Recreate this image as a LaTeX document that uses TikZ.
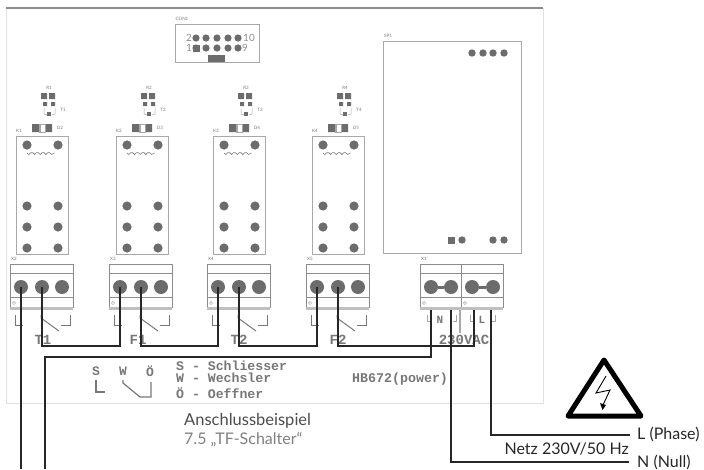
\documentclass[tikz,border=0pt]{standalone}
\usepackage{fontspec}
\setmainfont{Lato}
\setmonofont{Liberation Mono}
\usetikzlibrary{calc}
\definecolor{padgray}{HTML}{6C6C6C}
\definecolor{linegray}{HTML}{A8A8A8}
\definecolor{inkgray}{HTML}{777777}
\tikzset{
  pad/.style={circle,fill=padgray,inner sep=0pt,minimum size=#1},
  pad/.default=9pt,
  wire/.style={draw=black!85,line width=1.1pt},
  outline/.style={draw=linegray,line width=.8pt},
  symbolline/.style={draw=inkgray,line width=1pt},
  tiny/.style={text=inkgray,font=\fontsize{4.5}{5}\selectfont,inner sep=0pt},
  mono/.style={text=inkgray,font=\ttfamily\bfseries\fontsize{#1}{#1}\selectfont,inner sep=0pt},
  caption/.style={text=black!85,font=\fontsize{16}{18}\selectfont,inner sep=0pt}
}
\newcommand*{\RelayBlock}[5]{% #1 = relay, #2 = left edge, #3 = R, #4 = T, #5 = D
  \draw[outline] (#2,136) rectangle ++(52,118);
  \foreach \px in {11,42} {
    \foreach \py in {145,206,227,248} {
      \fill[padgray] ($(#2+\px,\py)$) circle (4.6);
    }
  }
  \draw[symbolline,line width=.6pt] (#2+11,153) -- ++(2,1.5) arc (200:340:3) arc (200:340:3)
    arc (200:340:3) arc (200:340:3) -- ++(3,-1.5);
  \node[tiny] (lbl#1) at (#2+3,131) {K#1};
  \node[tiny] (lbl#3) at (#2+33,88) {#3};
  \node[tiny] (lbl#4) at (#2+47,110) {#4};
  \node[tiny] (lbl#5) at (#2+44,128) {#5};
  \fill[padgray] (#2+25,93) rectangle ++(6,6) (#2+33,93) rectangle ++(6,6);
  \fill[padgray] (#2+27,102) rectangle ++(4,4) (#2+35,102) rectangle ++(4,4);
  \fill[padgray] (#2+31,112) rectangle ++(4,4);
  \draw[outline,line width=.5pt] (#2+28,108) -- ++(0,6) -- ++(3,1) (#2+39,108) -- ++(0,6) -- ++(-3,1);
  \fill[padgray] (#2+16,124) rectangle ++(7,8) (#2+29,124) rectangle ++(7,8);
  \fill[linegray] (#2+23,124) rectangle ++(2,8);
  \draw[outline,line width=.5pt] (#2+23,124) rectangle (#2+29,132);
}
\newcommand*{\TerminalBox}[2]{% #1 = left edge, #2 = width
  \draw[outline,draw=black!45,line width=.7pt] (#1,264) rectangle ++(#2,43);
  \draw[outline,draw=black!45,line width=.6pt] (#1,273) -- ++(#2,0) (#1,297) -- ++(#2,0);
  \fill[black!25] (#1,307) rectangle ++(#2,3);
  \draw[outline,line width=.5pt] (#1+4,303) circle (1.6);
}
\newcommand*{\TerminalBlock}[2]{% #1 = label, #2 = left edge
  \TerminalBox{#2}{63}
  \node[tiny] (lbl#1) at (#2+4,259) {#1};
  \node[pad=14pt] (#1a) at (#2+11,287) {};
  \node[pad=14pt] (#1b) at (#2+32,287) {};
  \node[pad=14pt] (#1c) at (#2+52,287) {};
  \draw[symbolline] (#2+5,315) -- ++(0,10) -- ++(8,0);
  \draw[symbolline] (#2+31,315) -- ++(0,3) -- ++(18,13);
  \draw[symbolline] (#2+60,315) -- ++(0,10) -- ++(-9,0);
}

\begin{document}
\begin{tikzpicture}[x=1pt,y=-1pt]
  \useasboundingbox (0,0) rectangle (704,469);

  % board
  \draw[draw=black!12,line width=.6pt] (6,8) rectangle (543,403);
  \draw[draw=black!45,line width=1.1pt] (6,8) -- (543,8);

  % connector
  \draw[outline] (175,24) rectangle (259,62);
  \fill[padgray] (208,55) rectangle (225,62);
  \foreach \px in {196,206,217,228,238} {
    \fill[padgray] (\px,38) circle (3.6);
    \fill[padgray] (\px,48) circle (3.6);
  }
  \fill[padgray] (192.5,44.5) rectangle (199.5,51.5);
  \node[tiny] (lblCON) at (182,19) {CON1};
  \foreach \nm/\x/\y/\t in {pinb/189/38/2,pinj/249/38/10,pina/189/48/1,pini/245/48/9} {
    \node[text=black!45,font=\fontsize{10}{10}\selectfont,inner sep=0pt] (\nm) at (\x,\y) {\t};
  }

  % relays
  \RelayBlock{1}{16}{R1}{T1}{D2}
  \RelayBlock{2}{116}{R2}{T2}{D3}
  \RelayBlock{3}{213}{R3}{T3}{D4}
  \RelayBlock{4}{312}{R4}{T4}{D5}

  % power supply
  \draw[outline] (383,41) rectangle (521,253);
  \node[tiny] (lblSP) at (388,36) {SP1};
  \foreach \px in {472,483,493,504} {
    \fill[padgray] (\px,53) circle (3.7);
  }
  \fill[padgray] (448,237) rectangle (455,244);
  \foreach \px in {462,493,504} {
    \fill[padgray] (\px,240) circle (3.7);
  }

  % terminals
  \TerminalBlock{X2}{10}
  \TerminalBlock{X3}{109}
  \TerminalBlock{X4}{207}
  \TerminalBlock{X5}{306}
  \TerminalBox{420}{41}
  \TerminalBox{461}{42}
  \node[tiny] (lblXa) at (424,259) {X1};
  \node[pad=14pt] (Xaa) at (431,287) {};
  \node[pad=14pt] (Xab) at (451,287) {};
  \node[pad=14pt] (Xba) at (472,287) {};
  \node[pad=14pt] (Xbb) at (493,287) {};
  \draw[padgray,line width=3pt] (Xaa) -- (Xab);
  \draw[padgray,line width=3pt] (Xba) -- (Xbb);
  \draw[outline,line width=.6pt] (427,315) -- ++(0,6) -- ++(3,0) (456,315) -- ++(0,6) -- ++(-3,0)
    (470,315) -- ++(0,6) -- ++(3,0) (495,315) -- ++(0,6) -- ++(-3,0);
  \draw[linegray,line width=1.6pt] (460,310) -- (460,333);

  % prints on the board
  \foreach \nm/\x/\t in {lblTa/43/T1,lblFa/138/F1,lblTb/239/T2,lblFb/338/F2,lblAC/464/230VAC} {
    \node[mono=14] (\nm) at (\x,340) {\t};
  }
  \node[mono=11] (lblN) at (440,320) {N};
  \node[mono=11] (lblL) at (482,320) {L};
  \foreach \nm/\x/\t in {lblS/96/S,lblW/123/W,lblO/150/Ö} {
    \node[mono=13] (\nm) at (\x,371) {\t};
  }
  \draw[symbolline,line width=1.2pt] (96,380) -- ++(0,12) -- ++(9,0);
  \draw[symbolline,line width=1.2pt] (123,380) -- ++(0,3) -- ++(17,14) -- ++(11,0) -- ++(0,-15);
  \node[mono=13.2,anchor=west] (txtS) at (176,366) {S - Schliesser};
  \node[mono=13.2,anchor=west] (txtW) at (176,378) {W - Wechsler};
  \node[mono=13.2,anchor=west] (txtO) at (176,393) {Ö - Oeffner};
  \node[mono=13.3,anchor=west] (txtHB) at (352,379) {HB672(power)};

  % wires
  \coordinate (busa) at (0,346);
  \coordinate (busb) at (0,357);
  \coordinate (nulla) at (629,462);
  \coordinate (phase) at (630,435);
  \coordinate (outa) at (21,469);
  \coordinate (outb) at (45,469);
  \coordinate (stubA) at (431,310);
  \coordinate (stubB) at (474,310);
  \coordinate (stubN) at (451,310);
  \coordinate (stubL) at (491,310);
  \draw[wire] (X2a.center) -- (outa);
  \draw[wire] (X2b.center) |- (busa -| X3a) -- (X3a.center);
  \draw[wire] (X3b.center) |- (busa -| X4a) -- (X4a.center);
  \draw[wire] (X4b.center) |- (busa -| X5a) -- (X5a.center);
  \draw[wire] (X5b.center) |- (busa -| stubB) -- (stubB);
  \draw[wire] (outb) |- (busb -| stubA) -- (stubA);
  \draw[wire] (stubN) |- (nulla);
  \draw[wire] (stubL) |- (phase);

  % mains labels
  \node[caption,anchor=west] (lblPhase) at (637,434) {L (Phase)};
  \node[caption,anchor=west] (lblNull) at (637,462) {N (Null)};
  \node[caption,anchor=east] (lblNetz) at (629,449) {Netz 230V/50 Hz};
  \node[text=black!70,font=\fontsize{16.5}{18}\selectfont,inner sep=0pt,anchor=west] (lblTitle) at (184,421) {Anschlussbeispiel};
  \node[text=black!50,font=\fontsize{16}{18}\selectfont,inner sep=0pt,anchor=west] (lblSub) at (184,440) {7.5 „TF-Schalter“};

  % warning sign
  \draw[black,line width=5pt,line join=round] (604,360) -- (641,416) -- (568,416) -- cycle;
  \draw[black,line width=.9pt,line join=miter] (606,376) -- (596,393) -- (610,390) -- (603,405);
  \fill[black] (600,403) -- (606,405) -- (602.5,410) -- cycle;
\end{tikzpicture}
\end{document}
